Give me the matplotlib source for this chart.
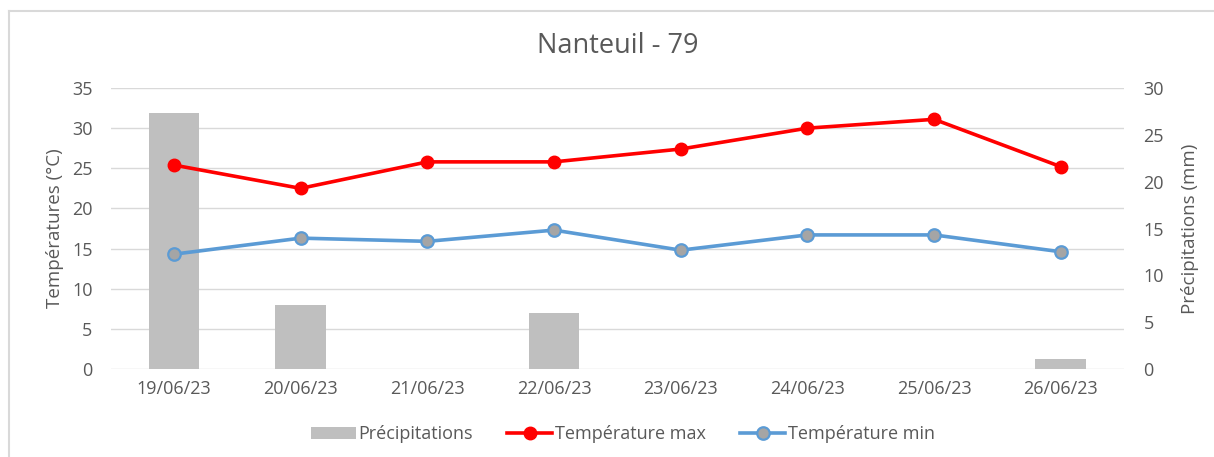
import matplotlib
matplotlib.use('Agg')
import matplotlib.pyplot as plt
from matplotlib.lines import Line2D
import numpy as np

plt.rcParams['font.family'] = ['Open Sans', 'DejaVu Sans']

dates = ['19/06/23', '20/06/23', '21/06/23', '22/06/23',
         '23/06/23', '24/06/23', '25/06/23', '26/06/23']
precip = [27.3, 6.8, 0, 6.0, 0, 0, 0, 1.1]
t_max = [25.4, 22.5, 25.8, 25.8, 27.4, 30.0, 31.1, 25.2]
t_min = [14.3, 16.3, 15.9, 17.3, 14.8, 16.7, 16.7, 14.6]

grey_txt = '#595959'
grid_c = '#d9d9d9'

fig = plt.figure(figsize=(12.14, 4.57), dpi=100)
# outer chart frame
fig.add_artist(Line2D([9/1214, 9/1214], [0, 1 - 11/457], color=grid_c, lw=1.5))
fig.add_artist(Line2D([9/1214, 1], [1 - 11/457, 1 - 11/457], color=grid_c, lw=1.5))

ax = fig.add_axes([0.0911, 0.1926, 0.8349, 0.6148])
ax2 = ax.twinx()
x = np.arange(len(dates))

# bars on the secondary axis, drawn behind the lines
ax2.bar(x, precip, width=0.4, color='#bfbfbf', zorder=1, label='Précipitations')
ax2.set_ylim(0, 30)
ax2.set_yticks(range(0, 31, 5))

ax.set_zorder(ax2.get_zorder() + 1)
ax.patch.set_visible(False)
ax.plot(x, t_max, color='#ff0000', lw=2.6, marker='o', ms=9,
        mfc='#ff0000', mec='#ff0000', zorder=3, label='Température max')
ax.plot(x, t_min, color='#5b9bd5', lw=2.6, marker='o', ms=9,
        mfc='#a5a5a5', mec='#5b9bd5', mew=1.6, zorder=3, label='Température min')
ax.set_ylim(0, 35)
ax.set_yticks(range(0, 36, 5))
ax.set_xlim(-0.5, len(dates) - 0.5)
ax.set_xticks(x)
ax.set_xticklabels(dates)

for a in (ax, ax2):
    for s in a.spines.values():
        s.set_visible(False)
    a.tick_params(length=0, colors=grey_txt, labelsize=13)
ax.tick_params(axis='x', pad=8)
ax.tick_params(axis='y', pad=13)
ax2.tick_params(axis='y', pad=14)

for v in range(0, 36, 5):
    ax2.axhline(v * 30 / 35, color=grid_c, lw=1, zorder=0)

ax.set_ylabel('Températures (°C)', color=grey_txt, fontsize=13.5, labelpad=6)
ax2.set_ylabel('Précipitations (mm)', color=grey_txt, fontsize=13.5, labelpad=12)
fig.text(0.509, 0.9, 'Nanteuil - 79', ha='center', va='center',
         color=grey_txt, fontsize=19.5)

h1, l1 = ax2.get_legend_handles_labels()
h2, l2 = ax.get_legend_handles_labels()
leg = fig.legend(h1 + h2, l1 + l2, loc='center', bbox_to_anchor=(0.513, 0.05),
                 ncol=3, frameon=False, fontsize=13, handlelength=2.5,
                 handletextpad=0.15, columnspacing=1.9)
for t in leg.get_texts():
    t.set_color(grey_txt)

fig.savefig('out.png', dpi=100)
